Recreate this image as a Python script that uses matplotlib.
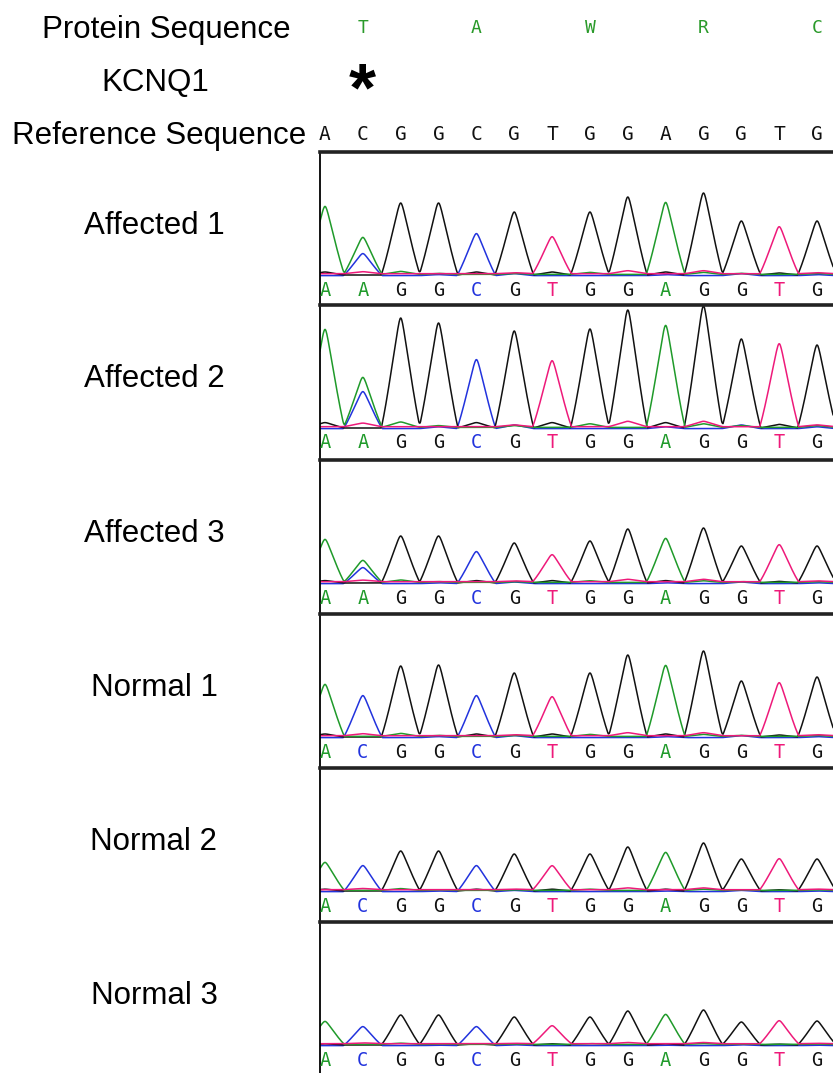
import numpy as np
import matplotlib
matplotlib.use("Agg")
import matplotlib.pyplot as plt
from matplotlib.transforms import blended_transform_factory

plt.rcParams["mathtext.fontset"] = "custom"
plt.rcParams["mathtext.bf"] = "Liberation Sans:bold"

# sequences
protein = ["T", "A", "W", "R", "C"]
protein_pos = [1, 4, 7, 10, 13]
reference = list("ACGGCGTGGAGGTG")
calls_affected = list("AAGGCGTGGAGGTG")
calls_normal = list("ACGGCGTGGAGGTG")

sample_names = ["Affected 1", "Affected 2", "Affected 3", "Normal 1", "Normal 2", "Normal 3"]

# main peak heights (px above baseline), one per base call
affected1 = [68, 37, 72, 72, 42, 63, 37, 63, 78, 72, 82, 54, 47, 54]
affected2 = [98, 50, 110, 105, 69, 97, 66, 99, 118, 102, 122, 89, 83, 83]
affected3 = [43, 22, 47, 47, 32, 40, 27, 42, 54, 44, 55, 37, 37, 37]
normal1 = [52, 42, 71, 72, 42, 64, 39, 64, 82, 71, 86, 56, 53, 60]
normal2 = [28, 26, 40, 40, 26, 37, 24, 37, 44, 38, 48, 32, 31, 32]
normal3 = [23, 19, 30, 30, 19, 28, 18, 28, 34, 30, 35, 23, 23, 24]

# heterozygous C (blue) under the A call at position 2 of the affected
het_c = [22, 37, 16, 0, 0, 0]

# small background bumps per channel (px)
noise_G = [3, 0, 0, 0, 3, 0, 3, 0, 0, 3, 0, 0, 2, 0]
noise_A = [0, 0, 3, 1, 0, 1, 0, 2, 0, 0, 2, 1, 0, 1]
noise_T = [0, 2, 0, 0, 0, 1, 0, 0, 3, 0, 3, 0, 0, 1]
noise_C = [0, 0, 0, 1, 0, 2, 0, 0, 0, 1, 0, 2, 0, 1]

heights = [affected1, affected2, affected3, normal1, normal2, normal3]
calls = [calls_affected] * 3 + [calls_normal] * 3
noise_scale = [1.0, 1.8, 0.8, 1.0, 0.6, 0.4]

colors = {"A": "#1f9a2a", "C": "#2233dd", "G": "#111111", "T": "#ee1a7a"}
trace_order = ["C", "G", "A", "T"]
offsets = {"A": 0.6, "C": -0.6, "G": 0.0, "T": 1.3}

W, H = 833, 1073
fig = plt.figure(figsize=(W / 100, H / 100), dpi=100)

x0_px, spacing = 325.0, 37.85
left_px = 320
panel_tops = [152, 305, 460, 614, 768, 922, 1073]
base_from_top = 123

x = np.linspace((left_px - x0_px) / spacing, (W - x0_px) / spacing, 1200)
half_w, eps = 0.47, 0.05


def peak(pos, h):
    d = np.sqrt((x - pos) ** 2 + eps ** 2) - eps
    return h * np.clip(1 - d / half_w, 0, None) ** 1.15


axes = []
for i in range(6):
    top, bot = panel_tops[i], panel_tops[i + 1]
    ax = fig.add_axes([left_px / W, 1 - bot / H, (W - left_px) / W, (bot - top) / H])
    ax.set_xlim(x[0], x[-1])
    ax.set_ylim(-(bot - top - base_from_top), base_from_top)
    for s in ["right", "bottom"]:
        ax.spines[s].set_visible(False)
    ax.spines["top"].set_linewidth(2.6)
    ax.spines["top"].set_color("#222222")
    ax.spines["left"].set_linewidth(1.3)
    ax.set_xticks([])
    ax.set_yticks([])

    traces = {b: np.zeros_like(x) + offsets[b] for b in "ACGT"}
    noise = {"G": noise_G, "A": noise_A, "T": noise_T, "C": noise_C}
    for j, b in enumerate(calls[i]):
        traces[b] += peak(j, heights[i][j])
        for nb in "ACGT":
            if nb != b and noise[nb][j]:
                traces[nb] += peak(j, noise[nb][j] * noise_scale[i])
    if het_c[i]:
        traces["C"] += peak(1, het_c[i])
    for b in trace_order:
        ax.plot(x, traces[b], color=colors[b], lw=1.1)

    for j, b in enumerate(calls[i]):
        ax.text(j, -15, b, color=colors[b], ha="center", va="center",
                family="DejaVu Sans Mono", fontsize=13.5)

    fig.text(154 / W, 1 - (top + 74) / H, sample_names[i], ha="center", va="center",
             family="Liberation Sans", fontsize=22.5)
    axes.append(ax)

tr = blended_transform_factory(axes[0].transData, fig.transFigure)
for p, aa in zip(protein_pos, protein):
    fig.text(p, 1 - 28 / H, aa, transform=tr, ha="center", va="center",
             color="#2a9a2a", family="DejaVu Sans Mono", fontsize=13)
for j, b in enumerate(reference):
    fig.text(j, 1 - 134 / H, b, transform=tr, ha="center", va="center",
             color="#111111", family="DejaVu Sans Mono", fontsize=14)
fig.text(1, 1 - 90 / H, r"$\mathbf{*}$", transform=tr, ha="center", va="center",
         fontsize=50, color="black")

fig.text(166 / W, 1 - 30 / H, "Protein Sequence", ha="center", va="center",
         family="Liberation Sans", fontsize=22.5)
fig.text(155 / W, 1 - 83 / H, "KCNQ1", ha="center", va="center",
         family="Liberation Sans", fontsize=22.5)
fig.text(306 / W, 1 - 136 / H, "Reference Sequence", ha="right", va="center",
         family="Liberation Sans", fontsize=22.5)

fig.savefig("out.png", dpi=100)
